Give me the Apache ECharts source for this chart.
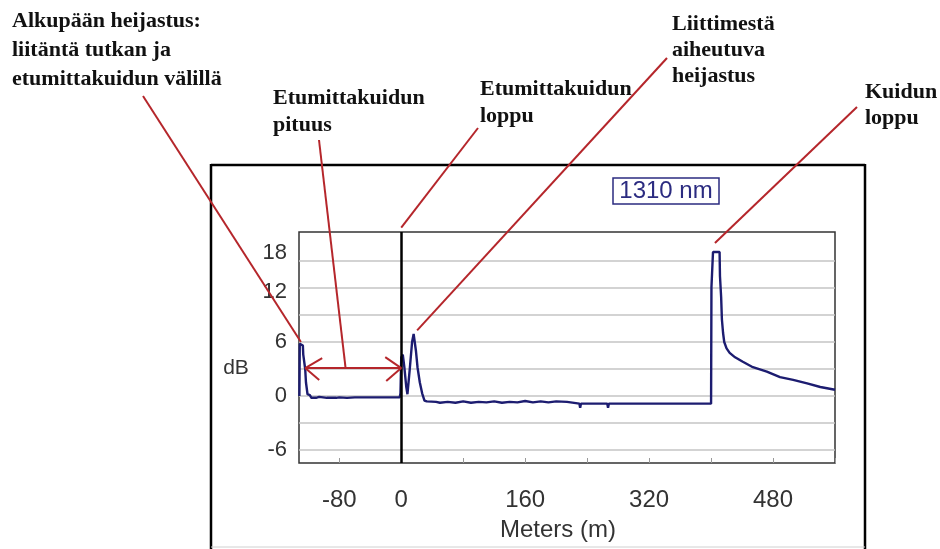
<!DOCTYPE html>
<html><head><meta charset="utf-8">
<script src="https://cdn.jsdelivr.net/npm/echarts@6/dist/echarts.min.js"></script>
<style>html,body{margin:0;padding:0;background:#fff}#c{width:940px;height:549px}</style>
</head><body><div id="c"></div>
<script>
// ---- data (distance in metres, level in dB) ----
const distanceM = [
  -131.5,-131,-129.5,-128.5,-127,-126.5,-125,-124,-123,-121.5,-121,-118,-116,-110,-106,-104,-96,-94,-92,-84,-82,-80,-70,-60,-40,-20,-2,
  -1,0,2,3,4,5.5,6.5,8,10,11,13,14,16,18,19,20,21,23,24,26,27,29,30,33,35,
  45,50,60,70,80,90,100,110,120,130,140,150,160,170,180,190,200,214,
  215,230,231,232,266,267,268,400,
  400.5,402,402.5,411,411.5,413,414,415.5,417,420,424,431,441,454,472,489,506,524,541,560
];
const levelDb = [
  0,5.8,6.0,5.6,5.6,4.6,4.5,3.0,1.5,1.4,0.2,0.1,-0.2,-0.2,-0.1,-0.2,-0.2,-0.05,-0.2,-0.2,-0.05,-0.15,-0.2,-0.15,-0.15,-0.15,-0.15,
  0.3,4.3,4.6,4.6,3.2,3.0,1.0,0.2,0.2,3.0,3.1,6.0,6.9,6.9,5.0,4.9,3.2,3.0,1.5,1.4,0.3,0.2,-0.5,-0.6,-0.75,
  -0.65,-0.75,-0.65,-0.75,-0.6,-0.75,-0.65,-0.7,-0.6,-0.75,-0.65,-0.7,-0.55,-0.7,-0.6,-0.7,-0.6,-0.65,
  -0.85,-0.85,-1.3,-0.85,-0.85,-1.3,-0.85,-0.85,
  12.1,12.1,16,16,13.3,11,8.5,7.0,6.0,5.3,4.8,4.3,3.8,3.2,2.7,2.1,1.8,1.4,1.0,0.7
];
const xTickValues = [-80,0,80,160,240,320,400,480,560];
const xLabelValues = [-80,0,160,320,480];
const yGridValues = [-6,-3,0,3,6,9,12,15];
const yLabelValues = [-6,0,6,12,18];
const wavelengthLabel = '1310 nm';
const xAxisTitle = 'Meters (m)';
const yAxisTitle = 'dB';
const noteLaunch = ['Alkupään heijastus:','liitäntä tutkan ja','etumittakuidun välillä'];
const noteLength = ['Etumittakuidun','pituus'];
const noteLaunchEnd = ['Etumittakuidun','loppu'];
const noteConnector = ['Liittimestä','aiheutuva','heijastus'];
const noteFiberEnd = ['Kuidun','loppu'];
// data-space points the annotation pointers aim at
const launchPeakPt = [-129.5, 6.0];
const lengthArrowFrom = [-124, 3.1];
const lengthArrowTo = [0, 3.1];
const lengthPointerPt = [-72, 3.2];
const launchEndPt = [0, 18.7];
const connectorPt = [20.5, 7.3];
const fiberEndPt = [405, 17.0];

const chart = echarts.init(document.getElementById('c'), null, {renderer:'canvas'});
const SANS = '"Liberation Sans", Arial, sans-serif';
const SERIF = '"Liberation Serif", "Times New Roman", serif';
const RED = '#b5262b';

chart.setOption({
  animation:false,
  backgroundColor:'#fff',
  grid:{left:299, top:232, right:105, bottom:86, show:true, borderColor:'#333', borderWidth:1.5, containLabel:false},
  xAxis:{
    type:'value', min:-132, max:560,
    axisLine:{show:false, onZero:false},
    axisTick:{show:true, inside:true, length:5, lineStyle:{color:'#999', width:1}, customValues:xTickValues},
    axisLabel:{customValues:xLabelValues, margin:25, color:'#333', fontFamily:SANS, fontSize:24},
    splitLine:{show:false}
  },
  yAxis:{
    type:'value', min:-7.44, max:18.22,
    axisLine:{show:false, onZero:false},
    axisTick:{show:false, customValues:yGridValues},
    axisLabel:{
      customValues:yLabelValues, margin:12, color:'#333', fontFamily:SANS, fontSize:22,
      formatter:function(v){ if(v===18) return '{a|18}'; if(v===12) return '{b|12}'; return String(v); },
      rich:{
        a:{padding:[38,0,0,0], color:'#333', fontFamily:SANS, fontSize:22},
        b:{padding:[8,0,0,0], color:'#333', fontFamily:SANS, fontSize:22}
      }
    },
    splitLine:{show:true, lineStyle:{color:'#c4c4c4', width:1.6}}
  },
  series:[{
    type:'line', data:distanceM.map((d,i)=>[d, levelDb[i]]),
    showSymbol:false, lineStyle:{color:'#1c1c70', width:2.4}, z:3,
    markLine:{silent:true, symbol:'none', label:{show:false},
      lineStyle:{color:'#000', width:2.5, type:'solid'}, data:[{xAxis:0}]}
  }]
});

function px(p){ return chart.convertToPixel({gridIndex:0}, p); }
function seg(x1,y1,x2,y2,color,w){ return {type:'line', z:100, shape:{x1,y1,x2,y2}, style:{stroke:color||RED, lineWidth:w||2}}; }
function note(lines, x, top, lh){ return {type:'text', z:100, style:{x, y:top, text:lines.join('\n'), font:'bold 22px '+SERIF, fill:'#111', lineHeight:lh, verticalAlign:'top', align:'left'}}; }

const g = [];
// outer frame
g.push(seg(211,165,865,165,'#000',2.5));
g.push(seg(211,164,211,549,'#000',2.5));
g.push(seg(865,164,865,549,'#000',2.5));
g.push(seg(211,547,865,547,'#d0d0d0',1));
// titles
g.push({type:'text', z:100, style:{x:558, y:530, text:xAxisTitle, font:'24px '+SANS, fill:'#333', align:'center', verticalAlign:'middle'}});
g.push({type:'text', z:100, style:{x:236, y:368, text:yAxisTitle, font:'21px '+SANS, fill:'#333', align:'center', verticalAlign:'middle'}});
// wavelength box
g.push({type:'rect', z:100, shape:{x:613, y:178, width:106, height:26}, style:{fill:'#fff', stroke:'#2b2b80', lineWidth:1.5}});
g.push({type:'text', z:101, style:{x:666, y:191, text:wavelengthLabel, font:'24px '+SANS, fill:'#2b2b80', align:'center', verticalAlign:'middle'}});
// notes
g.push(note(noteLaunch, 12, 6.5, 29));
g.push(note(noteLength, 273, 84.5, 27));
g.push(note(noteLaunchEnd, 480, 75.5, 27));
g.push(note(noteConnector, 672, 11, 26));
g.push(note(noteFiberEnd, 865, 79, 26));
// pointers
let p;
p = px(launchPeakPt); g.push(seg(143,96,p[0],p[1]));
p = px(lengthPointerPt); g.push(seg(319,140,p[0],p[1]));
p = px(launchEndPt); g.push(seg(478,128,p[0],p[1]));
p = px(connectorPt); g.push(seg(667,58,p[0],p[1]));
p = px(fiberEndPt); g.push(seg(857,107,p[0],p[1]));
// double arrow
const a1 = px(lengthArrowFrom), a2 = px(lengthArrowTo);
g.push(seg(a1[0],a1[1],a2[0],a2[1]));
g.push(seg(a1[0],a1[1],a1[0]+17,a1[1]-10));
g.push(seg(a1[0],a1[1],a1[0]+14,a1[1]+12));
g.push(seg(a2[0],a2[1],a2[0]-16,a2[1]-11));
g.push(seg(a2[0],a2[1],a2[0]-15,a2[1]+13));
chart.setOption({graphic:g});
</script></body></html>
